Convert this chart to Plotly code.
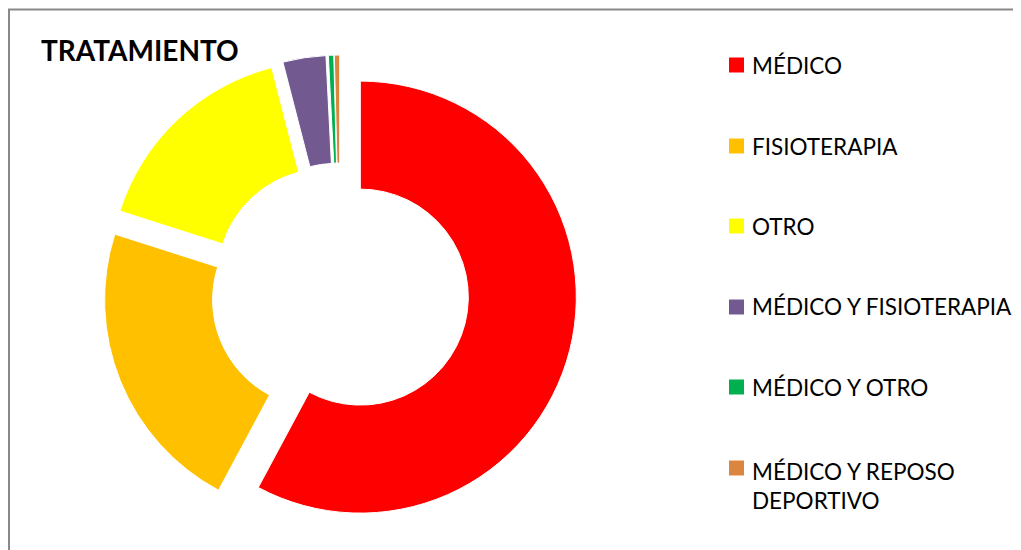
import plotly.graph_objects as go

# ---- data ----
labels = ["MÉDICO", "FISIOTERAPIA", "OTRO", "MÉDICO Y FISIOTERAPIA",
          "MÉDICO Y OTRO", "MÉDICO Y REPOSO DEPORTIVO"]
legend_text = ["MÉDICO", "FISIOTERAPIA", "OTRO", "MÉDICO Y FISIOTERAPIA",
               "MÉDICO Y OTRO", "MÉDICO Y REPOSO<br>DEPORTIVO"]
values = [144, 55, 40, 8, 1, 1]
colors = ["#FF0000", "#FFC000", "#FFFF00", "#725A91", "#00B050", "#DA8640"]
title_text = "TRATAMIENTO"

W, H = 1021, 550
FONT = "Lato"
OFF = 8  # page body margin

def px(x):
    return (x - OFF) / W

def py(y):
    return 1 - (y - OFF) / H

# donut geometry (screen pixels)
cx, cy, R, pull = 340, 292, 216, 0.097
half = R * (1 + pull)

fig = go.Figure(go.Pie(
    labels=labels,
    values=values,
    marker=dict(colors=colors, line=dict(color="white", width=1)),
    hole=0.5,
    sort=False,
    direction="clockwise",
    rotation=0,
    pull=[pull] * len(values),
    textinfo="none",
    hoverinfo="label+value+percent",
    showlegend=False,
    domain=dict(x=[px(cx - half), px(cx + half)],
                y=[py(cy + half), py(cy - half)]),
))

annotations = [dict(
    text="<b>" + title_text + "</b>", x=px(39), y=py(50), xref="paper", yref="paper",
    xanchor="left", yanchor="middle", showarrow=False,
    font=dict(family=FONT, size=28, color="#000000"))]
shapes = []

legend_y = [65, 146, 226, 307, 387, 468]
for i, (txt, col) in enumerate(zip(legend_text, colors)):
    yc = legend_y[i]
    shapes.append(dict(type="rect", xref="paper", yref="paper",
                       x0=px(729), x1=px(744), y0=py(yc - 7.5), y1=py(yc + 7.5),
                       fillcolor=col, line=dict(width=0)))
    multi = "<br>" in txt
    annotations.append(dict(
        text=txt, x=px(750), y=py(yc - 12 if multi else yc), xref="paper", yref="paper",
        xanchor="left", yanchor="top" if multi else "middle", align="left",
        showarrow=False, font=dict(family=FONT, size=22.5, color="#000000")))

# chart border
shapes.append(dict(type="rect", xref="paper", yref="paper",
                   x0=px(9), x1=px(1040), y0=py(570), y1=py(9.5),
                   line=dict(color="#898989", width=2), fillcolor="rgba(0,0,0,0)"))

fig.update_layout(
    width=W, height=H, autosize=False,
    margin=dict(l=0, r=0, t=0, b=0),
    paper_bgcolor="white", plot_bgcolor="white",
    annotations=annotations, shapes=shapes,
    font=dict(family=FONT),
)

fig.write_html("out.html")
